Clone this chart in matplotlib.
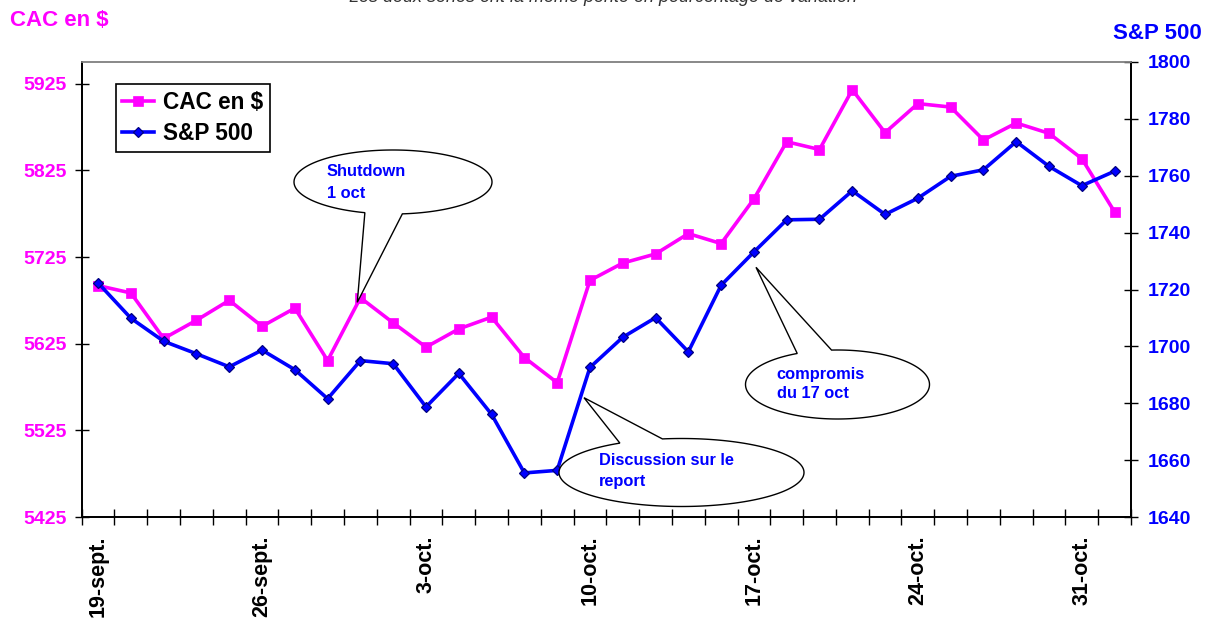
import matplotlib
matplotlib.use("Agg")
import matplotlib.pyplot as plt
import numpy as np
from matplotlib.patches import Polygon
from matplotlib.lines import Line2D

plt.rcParams['font.family'] = ['Liberation Sans', 'DejaVu Sans']

# ---------------- data ----------------
days = ["19-sept.", "20-sept.", "23-sept.", "24-sept.", "25-sept.", "26-sept.",
        "27-sept.", "30-sept.", "1-oct.", "2-oct.", "3-oct.", "4-oct.", "7-oct.",
        "8-oct.", "9-oct.", "10-oct.", "11-oct.", "14-oct.", "15-oct.", "16-oct.",
        "17-oct.", "18-oct.", "21-oct.", "22-oct.", "23-oct.", "24-oct.", "25-oct.",
        "28-oct.", "29-oct.", "30-oct.", "31-oct.", "1-nov."]
label_every = 5

cac_usd = [5692, 5683.5, 5631, 5652, 5675, 5645, 5666, 5605.5, 5678, 5649,
           5621, 5642, 5655.6, 5609, 5580, 5698, 5718, 5728.5, 5752, 5740.5,
           5792, 5858, 5849, 5918, 5868.5, 5902, 5898, 5860, 5879.6, 5867.7,
           5838.5, 5777]
sp500 = [1722.3, 1709.9, 1701.8, 1697.4, 1692.8, 1698.7, 1691.8, 1681.6, 1695.0,
         1693.9, 1678.7, 1690.5, 1676.1, 1655.5, 1656.4, 1692.6, 1703.2, 1710.1,
         1698.1, 1721.5, 1733.2, 1744.5, 1744.7, 1754.7, 1746.4, 1752.1, 1759.8,
         1762.1, 1772.0, 1763.3, 1756.5, 1761.6]

left_ticks = [5425, 5525, 5625, 5725, 5825, 5925]
right_ticks = [1640, 1660, 1680, 1700, 1720, 1740, 1760, 1780, 1800]

series_names = ["CAC en $", "S&P 500"]
title_text = "Les deux séries ont la même pente en pourcentage de variation"
notes = [["Shutdown", "1 oct"], ["Discussion sur le", "report"], ["compromis", "du 17 oct"]]

MAG = "#FF00FF"
BLU = "#0000FF"
W, H = 1216, 623

fig = plt.figure(figsize=(W / 100, H / 100), dpi=100)
fig.patch.set_facecolor("white")
ax = fig.add_axes([81.7 / W, 1 - 517 / H, (1131 - 81.7) / W, (517 - 62) / H])
ax2 = ax.twinx()

x = np.arange(len(days))
l1, = ax.plot(x, cac_usd, color=MAG, lw=2.6, marker="s", ms=6.5,
              mfc=MAG, mec=MAG, mew=0.5, label=series_names[0], zorder=3)
l2, = ax2.plot(x, sp500, color=BLU, lw=2.6, marker="D", ms=5.2,
               mfc=BLU, mec="#000080", mew=0.9, label=series_names[1], zorder=3)

ax.set_xlim(-0.5, len(days) - 0.5)
ax.set_ylim(5425, 5950)
ax2.set_ylim(1640, 1800)

ax.set_yticks(left_ticks)
ax.set_yticklabels([str(v) for v in left_ticks], color=MAG, fontsize=14, fontweight="bold")
ax2.set_yticks(right_ticks)
ax2.set_yticklabels([str(v) for v in right_ticks], color=BLU, fontsize=14, fontweight="bold")

major = x[::label_every]
ax.set_xticks(major)
ax.set_xticklabels([days[i] for i in major], rotation=90, fontsize=15.5,
                   fontweight="bold", va="top", ha="center")
ax.set_xticks(np.arange(-0.5, len(days), 1.0), minor=True)
ax.tick_params(axis="x", which="major", length=0, pad=13.5)
ax.tick_params(axis="x", which="minor", direction="inout", length=11, width=1, color="black")
ax.tick_params(axis="y", direction="inout", length=9.5, width=1, color="black", pad=6)
ax2.tick_params(axis="y", direction="inout", length=10, width=1, color="black", pad=7)

for a in (ax, ax2):
    a.spines["top"].set_color("#888888")
    a.spines["top"].set_linewidth(1.2)
    a.spines["left"].set_color("black")
    a.spines["left"].set_linewidth(1.3)
    a.spines["right"].set_color("black")
    a.spines["right"].set_linewidth(1.3)
    a.spines["bottom"].set_color("black")
    a.spines["bottom"].set_linewidth(1.3)
    a.set_facecolor("none")

leg = ax2.legend(handles=[l1, l2], loc="upper left", bbox_to_anchor=(0.0324, 0.951),
                 prop={"size": 16.3, "weight": "bold"}, frameon=True, fancybox=False,
                 edgecolor="black", framealpha=1, borderaxespad=0, borderpad=0.3,
                 handlelength=1.4, handletextpad=0.37, labelspacing=0.35)
leg.get_frame().set_linewidth(1.2)
for t in leg.get_texts():
    t.set_color("black")

# axis titles
fig.text(9.5 / W, 1 - 21 / H, series_names[0], color=MAG, fontsize=16, fontweight="bold",
         ha="left", va="center")
fig.text(1202 / W, 1 - 33.3 / H, series_names[1], color=BLU, fontsize=16, fontweight="bold",
         ha="right", va="center")

# title, clipped at the top edge as in the reference
fig.text(603 / W, 1 - 2.0 / H, title_text, fontsize=13, fontstyle="italic",
         color="#333333", ha="center", va="baseline")


def fp(p):
    return (p[0] / W, 1 - p[1] / H)


def callout(cx, cy, w, h, b1, b2, tip, lines, tx, tys):
    a, b = w / 2, h / 2

    def ang(p):
        return np.arctan2((p[1] - cy) / b, (p[0] - cx) / a)

    t1, t2, tt = ang(b1), ang(b2), ang(tip)
    tw = 2 * np.pi
    if (tt - t1) % tw < (t2 - t1) % tw:
        start, span = t2, (t1 - t2) % tw
    else:
        start, span = t1, (t2 - t1) % tw
    ts = start + np.linspace(0, span, 200)
    pts = [(cx + a * np.cos(t), cy + b * np.sin(t)) for t in ts]
    pts.append(tip)
    poly = Polygon([fp(p) for p in pts], closed=True, transform=fig.transFigure,
                   facecolor="white", edgecolor="black", lw=1.0, zorder=5)
    fig.add_artist(poly)
    for s, ty in zip(lines, tys):
        fig.text(tx / W, 1 - ty / H, s, color=BLU, fontsize=11.8, fontweight="bold",
                 ha="left", va="center", zorder=6)


callout(393, 182, 198, 64, (364.3, 213.3), (402.7, 215), (357.3, 302.3),
        notes[0], 326.7, [171.7, 193.3])
callout(681.5, 472.5, 245, 68, (619, 442.7), (662.3, 438.7), (584, 397.7),
        notes[1], 599, [460.7, 481.7])
callout(837.5, 384.5, 184, 69, (798.3, 354.3), (831.7, 351), (756, 267.3),
        notes[2], 776.7, [374, 394])

fig.savefig("out.png", dpi=100, facecolor="white")
